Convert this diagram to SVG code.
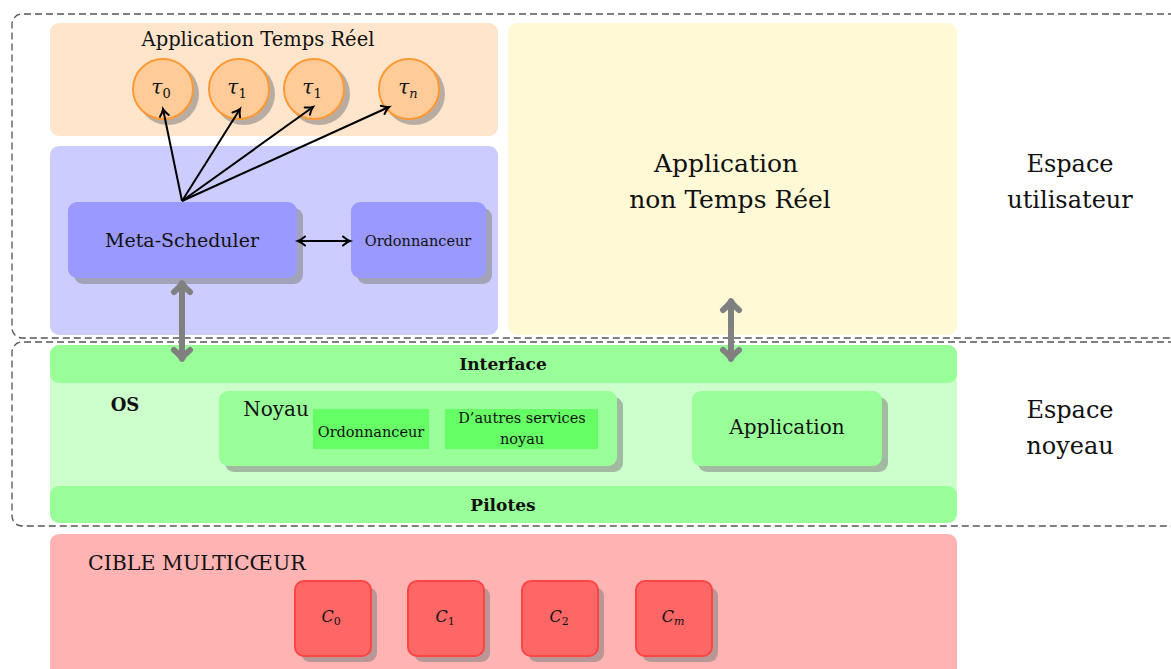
<svg xmlns="http://www.w3.org/2000/svg" width="1171" height="669" viewBox="0 0 1171 669" font-family="'DejaVu Serif', 'Liberation Serif', serif">
<defs>
<style>
text{font-family:'DejaVu Serif','Liberation Serif',serif;fill:#111;text-anchor:middle}
.sh{fill:#808080;fill-opacity:0.55}
.dash{fill:none;stroke:#555;stroke-width:1.3;stroke-dasharray:7 4}
.blk{stroke:#000;stroke-width:2;fill:none}
.gry{stroke:#808080;stroke-width:6;fill:none}
.tau{fill:#FFCC99;stroke:#FF9933;stroke-width:2}
.core{fill:#FF6666;stroke:#FF4444;stroke-width:2}
.b{font-weight:bold}
.i{font-style:italic}
</style>
<marker id="ah" markerUnits="userSpaceOnUse" markerWidth="20" markerHeight="20" viewBox="-10 -10 20 20" refX="0" refY="0" orient="auto-start-reverse">
<path d="M-7,-4.5 Q-3,-1 0,0 Q-3,1 -7,4.5" fill="none" stroke="#000" stroke-width="2" stroke-linecap="round"/>
</marker>
<marker id="gh" markerUnits="userSpaceOnUse" markerWidth="30" markerHeight="30" viewBox="-15 -15 30 30" refX="0" refY="0" orient="auto-start-reverse">
<path d="M-9,-8 Q-3,-1 0,0 Q-3,1 -9,8" fill="none" stroke="#808080" stroke-width="6" stroke-linecap="round" stroke-linejoin="round"/>
</marker>
</defs>
<rect width="1171" height="669" fill="#fff"/>

<g id="espace-utilisateur-frame">
<path class="dash" d="M1175,14 H22 A10,10 0 0 0 12,24 V328 A10,10 0 0 0 22,338 H1175"/>
</g>
<g id="espace-noyau-frame">
<path class="dash" d="M1175,342 H22 A10,10 0 0 0 12,352 V516 A10,10 0 0 0 22,526 H1175"/>
</g>

<g id="app-temps-reel">
<rect x="50" y="23" width="448" height="113" rx="9" fill="#FFE5CC"/>
<text x="258" y="46" font-size="19.5">Application Temps Réel</text>
</g>

<g id="tau0">
<circle class="sh" cx="168" cy="94" r="31"/>
<circle class="tau" cx="163" cy="89" r="30"/>
<text class="i" x="161" y="94" font-size="20">τ<tspan font-style="normal" font-size="13" dy="4">0</tspan></text>
</g>
<g id="tau1a">
<circle class="sh" cx="244" cy="94" r="31"/>
<circle class="tau" cx="239" cy="89" r="30"/>
<text class="i" x="237" y="94" font-size="20">τ<tspan font-style="normal" font-size="13" dy="4">1</tspan></text>
</g>
<g id="tau1b">
<circle class="sh" cx="319" cy="94" r="31"/>
<circle class="tau" cx="314" cy="89" r="30"/>
<text class="i" x="312" y="94" font-size="20">τ<tspan font-style="normal" font-size="13" dy="4">1</tspan></text>
</g>
<g id="taun">
<circle class="sh" cx="414" cy="94" r="31"/>
<circle class="tau" cx="409" cy="89" r="30"/>
<text class="i" x="408" y="94" font-size="20">τ<tspan font-size="13" dy="4">n</tspan></text>
</g>

<g id="rt-zone">
<rect x="50" y="146" width="448" height="189" rx="9" fill="#CCCCFF"/>
</g>
<g id="meta-scheduler">
<rect class="sh" x="74" y="208" width="229" height="76" rx="9"/>
<rect x="68" y="202" width="229" height="76" rx="9" fill="#9999FF"/>
<text x="182" y="247" font-size="19">Meta-Scheduler</text>
</g>
<g id="ordonnanceur-rt">
<rect class="sh" x="357" y="208" width="135" height="76" rx="9"/>
<rect x="351" y="202" width="135" height="76" rx="9" fill="#9999FF"/>
<text x="418" y="246" font-size="14.5">Ordonnanceur</text>
</g>

<g id="app-non-temps-reel">
<rect x="508" y="23" width="449" height="312" rx="9" fill="#FFF9D6"/>
<text x="726" y="172" font-size="25">Application</text>
<text x="730" y="208" font-size="25">non Temps Réel</text>
</g>

<g id="label-utilisateur">
<text x="1070" y="172" font-size="24">Espace</text>
<text x="1070" y="208" font-size="24">utilisateur</text>
</g>

<g id="os">
<rect x="50" y="345" width="907" height="177" rx="9" fill="#CCFFCC"/>
<text class="b" x="125" y="411" font-size="18">OS</text>
</g>
<g id="interface">
<rect x="50" y="345" width="907" height="38" rx="9" fill="#99FF99"/>
<text class="b" x="503" y="370" font-size="17">Interface</text>
</g>
<g id="pilotes">
<rect x="50" y="486" width="907" height="37" rx="9" fill="#99FF99"/>
<text class="b" x="503" y="511" font-size="17">Pilotes</text>
</g>
<g id="noyau">
<rect class="sh" x="225" y="397" width="398" height="75" rx="9"/>
<rect x="219" y="391" width="398" height="75" rx="9" fill="#99FF99"/>
<text x="276" y="416" font-size="20">Noyau</text>
</g>
<g id="ordonnanceur-noyau">
<rect x="313" y="409" width="116" height="40" fill="#66FF66"/>
<text x="371" y="437" font-size="14.5">Ordonnanceur</text>
</g>
<g id="autres-services">
<rect x="445" y="409" width="153" height="40" fill="#66FF66"/>
<text x="522" y="423" font-size="14.5">D’autres services</text>
<text x="522" y="444" font-size="14.5">noyau</text>
</g>
<g id="application-noyau">
<rect class="sh" x="698" y="397" width="190" height="75" rx="9"/>
<rect x="692" y="391" width="190" height="75" rx="9" fill="#99FF99"/>
<text x="787" y="434" font-size="20">Application</text>
</g>

<g id="label-noyau">
<text x="1070" y="418" font-size="24">Espace</text>
<text x="1070" y="454" font-size="24">noyeau</text>
</g>

<g id="cible">
<rect x="50" y="534" width="907" height="145" rx="9" fill="#FFB3B3"/>
<text x="88" y="570" font-size="20.5" style="text-anchor:start">CIBLE MULTICŒUR</text>
</g>
<g id="c0">
<rect class="sh" x="301" y="587" width="76" height="75" rx="9"/>
<rect class="core" x="295" y="581" width="76" height="75" rx="9"/>
<text class="i" x="331" y="622" font-size="16">C<tspan font-style="normal" font-size="11" dy="3">0</tspan></text>
</g>
<g id="c1">
<rect class="sh" x="414" y="587" width="76" height="75" rx="9"/>
<rect class="core" x="408" y="581" width="76" height="75" rx="9"/>
<text class="i" x="445" y="622" font-size="16">C<tspan font-style="normal" font-size="11" dy="3">1</tspan></text>
</g>
<g id="c2">
<rect class="sh" x="528" y="587" width="76" height="75" rx="9"/>
<rect class="core" x="522" y="581" width="76" height="75" rx="9"/>
<text class="i" x="559" y="622" font-size="16">C<tspan font-style="normal" font-size="11" dy="3">2</tspan></text>
</g>
<g id="cm">
<rect class="sh" x="642" y="587" width="76" height="75" rx="9"/>
<rect class="core" x="636" y="581" width="76" height="75" rx="9"/>
<text class="i" x="673" y="622" font-size="16">C<tspan font-size="11" dy="3">m</tspan></text>
</g>

<g id="connectors">
<line class="blk" x1="182" y1="201" x2="163" y2="109" marker-end="url(#ah)"/>
<line class="blk" x1="182" y1="201" x2="240" y2="109" marker-end="url(#ah)"/>
<line class="blk" x1="182" y1="201" x2="313" y2="107" marker-end="url(#ah)"/>
<line class="blk" x1="182" y1="201" x2="389" y2="107" marker-end="url(#ah)"/>
<line class="blk" x1="298" y1="241" x2="350" y2="241" marker-start="url(#ah)" marker-end="url(#ah)"/>
<line class="gry" x1="182" y1="283" x2="182" y2="359" marker-start="url(#gh)" marker-end="url(#gh)"/>
<line class="gry" x1="731" y1="301" x2="731" y2="359" marker-start="url(#gh)" marker-end="url(#gh)"/>
</g>
</svg>
